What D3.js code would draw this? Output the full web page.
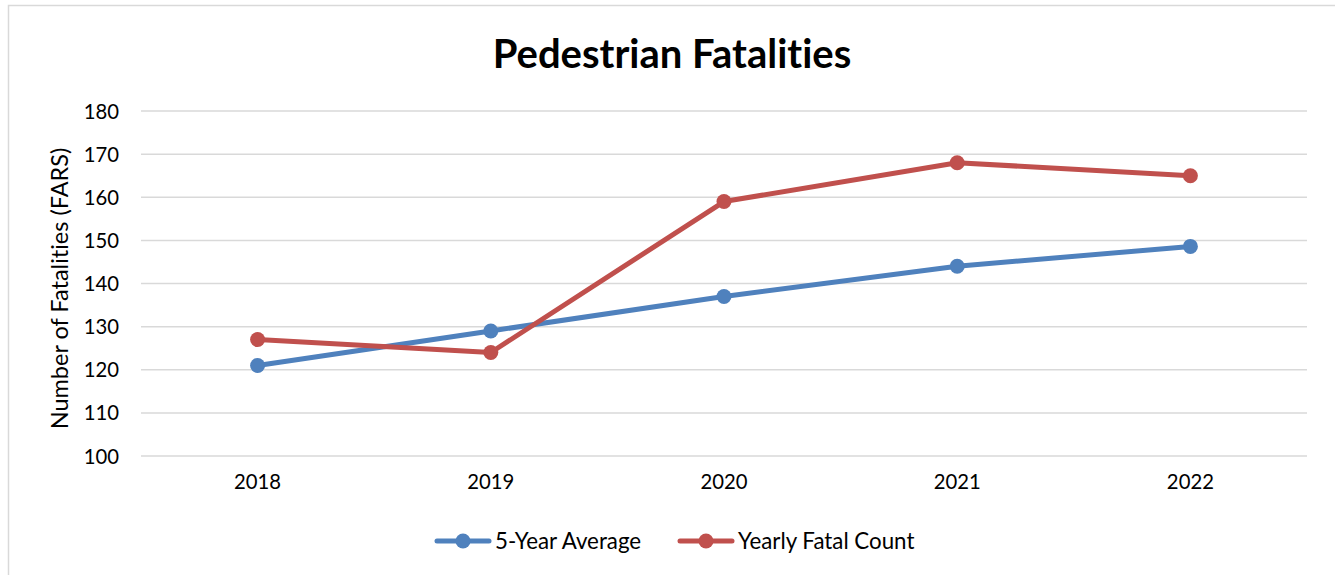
<!DOCTYPE html>
<html>
<head>
<meta charset="utf-8">
<script src="https://cdn.jsdelivr.net/npm/d3@7"></script>
<style>
  html, body { margin: 0; padding: 0; background: #fff; }
  svg { display: block; font-family: Lato, "Open Sans", sans-serif; font-variant-ligatures: none; }
</style>
</head>
<body>
<svg id="chart" width="1335" height="575"></svg>
<script>
const years = ["2018", "2019", "2020", "2021", "2022"];
const fiveYearAverage = [121, 129, 137, 144, 148.6];
const yearlyFatalCount = [127, 124, 159, 168, 165];
const yTicks = [100, 110, 120, 130, 140, 150, 160, 170, 180];
const seriesNames = ["5-Year Average", "Yearly Fatal Count"];
const seriesColors = ["#4F81BD", "#C0504D"];
const titleText = "Pedestrian Fatalities";
const yAxisTitle = "Number of Fatalities (FARS)";

const svg = d3.select("#chart");

// chart border
svg.append("rect")
  .attr("x", 8.5).attr("y", 5.5)
  .attr("width", 1340).attr("height", 600)
  .attr("fill", "none").attr("stroke", "#d9d9d9").attr("stroke-width", 1.5);

const plot = { left: 141, right: 1307, top: 111, bottom: 456 };

const x = d3.scaleBand().domain(years).range([plot.left, plot.right]);
const y = d3.scaleLinear().domain([100, 180]).range([plot.bottom, plot.top]);

// gridlines
svg.append("g")
  .selectAll("line").data(yTicks).join("line")
  .attr("x1", plot.left).attr("x2", plot.right)
  .attr("y1", d => y(d)).attr("y2", d => y(d))
  .attr("stroke", "#d9d9d9").attr("stroke-width", 1.5);

// y axis labels
const yAxis = d3.axisLeft(y).tickValues(yTicks).tickSize(0).tickPadding(0);
const gy = svg.append("g").attr("transform", `translate(${plot.left - 22},0)`).call(yAxis);
gy.select(".domain").remove();
gy.selectAll("text").attr("font-size", 20.3).attr("fill", "#000").attr("font-family", "Lato, sans-serif").attr("dy", "0.35em");

// x axis labels
const xAxis = d3.axisBottom(x).tickSize(0).tickPadding(0);
const gx = svg.append("g").attr("transform", `translate(0,${plot.bottom + 19})`).call(xAxis);
gx.select(".domain").remove();
gx.selectAll("text").attr("font-size", 20.3).attr("fill", "#000").attr("font-family", "Lato, sans-serif").attr("dy", "0.71em");

// title
svg.append("text")
  .attr("x", 672).attr("y", 68)
  .attr("text-anchor", "middle")
  .attr("font-size", 40).attr("font-weight", "bold").attr("fill", "#000")
  .text(titleText);

// y axis title
svg.append("text")
  .attr("transform", `translate(68,${(plot.top + plot.bottom) / 2 + 5}) rotate(-90)`)
  .attr("text-anchor", "middle")
  .attr("font-size", 23.5).attr("fill", "#000")
  .text(yAxisTitle);

const series = [fiveYearAverage, yearlyFatalCount];
const line = d3.line().x((d, i) => x(years[i]) + x.bandwidth() / 2).y(d => y(d));

series.forEach((vals, si) => {
  const g = svg.append("g");
  g.append("path").datum(vals)
    .attr("d", line)
    .attr("fill", "none")
    .attr("stroke", seriesColors[si])
    .attr("stroke-width", 5)
    .attr("stroke-linejoin", "round")
    .attr("stroke-linecap", "round");
  g.selectAll("circle").data(vals).join("circle")
    .attr("cx", (d, i) => x(years[i]) + x.bandwidth() / 2)
    .attr("cy", d => y(d))
    .attr("r", 7.5)
    .attr("fill", seriesColors[si]);
});

// legend
const legendItems = [
  { name: seriesNames[0], color: seriesColors[0], x0: 437 },
  { name: seriesNames[1], color: seriesColors[1], x0: 680 }
];
const ly = 541;
legendItems.forEach(it => {
  const g = svg.append("g");
  g.append("line").attr("x1", it.x0).attr("x2", it.x0 + 52)
    .attr("y1", ly).attr("y2", ly)
    .attr("stroke", it.color).attr("stroke-width", 5).attr("stroke-linecap", "round");
  g.append("circle").attr("cx", it.x0 + 26).attr("cy", ly).attr("r", 7.5).attr("fill", it.color);
  g.append("text").attr("x", it.x0 + 58).attr("y", ly).attr("dy", "0.35em")
    .attr("font-size", 22.3).attr("fill", "#000").text(it.name);
});
</script>
</body>
</html>
